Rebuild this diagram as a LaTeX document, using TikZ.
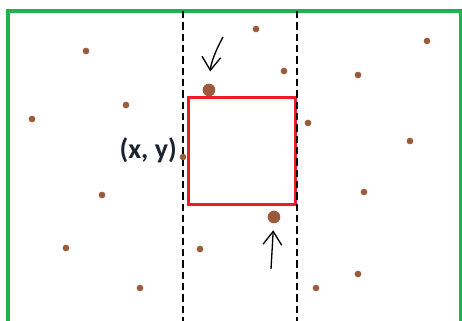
\documentclass[tikz,border=0pt]{standalone}
\usepackage{fontspec}
\setmainfont{Carlito}
\usepackage{xcolor}
\usepackage{tikz}
\usetikzlibrary{arrows.meta, positioning}

\definecolor{frameGreen}{RGB}{34,177,76}
\definecolor{windowRed}{RGB}{237,28,36}
\definecolor{pointBrown}{RGB}{156,90,60}
\definecolor{labelInk}{RGB}{30,34,50}

\begin{document}
\begin{tikzpicture}[x=0.75pt, y=-0.75pt,
    >={Straight Barb[length=10pt,width=14pt]},
    pt/.style={circle, fill=pointBrown, inner sep=0pt, minimum size=5pt},
    bigpt/.style={circle, fill=pointBrown, inner sep=0pt, minimum size=9.5pt},
    window/.style={rectangle, draw=windowRed, line width=2.2pt, minimum width=80.25pt, minimum height=80.25pt},
    strip/.style={line width=1.1pt, dash pattern=on 5.5pt off 3pt},
    hint/.style={->, line width=1pt}]

    \useasboundingbox (0,0) rectangle (462,321);
    \clip (0,0) rectangle (462,321);

    % outer region
    \draw[frameGreen, line width=2.3pt] (8,340) -- (8,11) -- (460.5,11) -- (460.5,340);

    % query window and its strip
    \node (win) [window] at (242.4,151.2) {};
    \draw[strip] (183,11) -- (183,340);
    \draw[strip] (297,11) -- (297,340);

    % points
    \foreach \px/\py [count=\i] in {86/51, 126/105, 32/119, 183/157, 256/29, 284/71,
        358/75, 427/41, 308/123, 410/141, 102/195, 66/248, 140/288, 200/249,
        364/192, 358/274, 316/288}
        \node (p\i) [pt] at (\px,\py) {};

    \node (topPt) [bigpt] at (209,90) {};
    \node (botPt) [bigpt] at (274,217) {};

    \node (corner) [font=\bfseries\fontsize{21}{25}\selectfont, text=labelInk, anchor=east, inner sep=0pt] at (177,150) {(x, y)};

    % pointers
    \coordinate (topTail) at (223,37);
    \coordinate (botTail) at (271,269);
    \draw[hint, shorten >=9pt] (topTail) to[bend right=12] (topPt);
    \draw[hint, shorten >=5pt] (botTail) -- (botPt);
\end{tikzpicture}
\end{document}
